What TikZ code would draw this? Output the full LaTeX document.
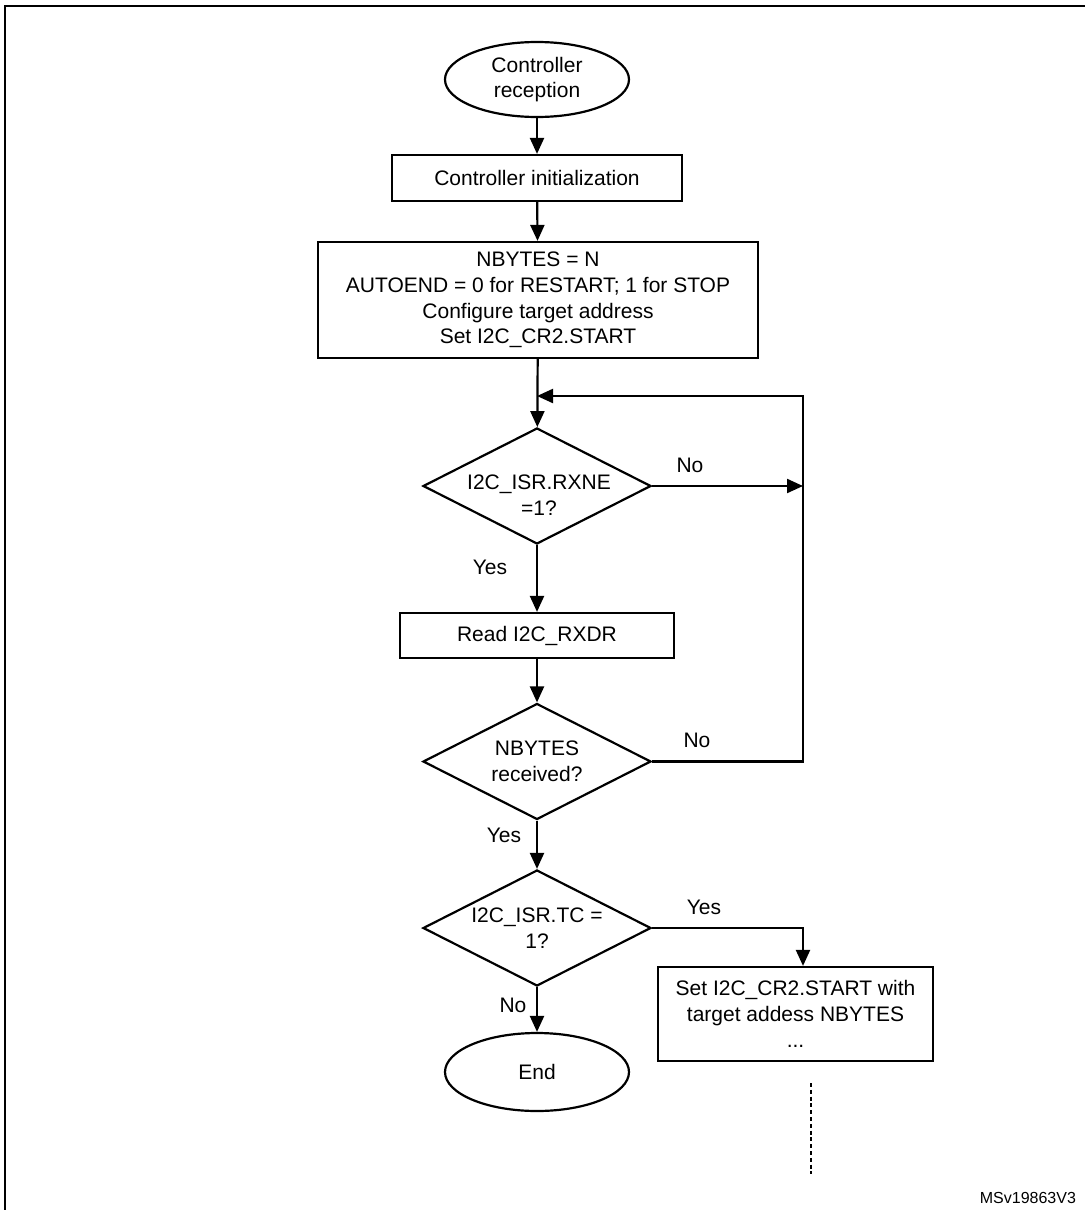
\documentclass[tikz,border=0pt]{standalone}
\usepackage{fontspec}
\setmainfont{Liberation Sans}
\usetikzlibrary{shapes.geometric,arrows.meta}
\begin{document}
\begin{tikzpicture}[x=0.5pt, y=-0.5pt,
    every node/.style={font=\fontsize{10.5}{12.85}\selectfont, align=center},
    box/.style={draw, line width=1.1pt, inner sep=0pt},
    term/.style={draw, line width=1.1pt, ellipse, inner sep=0pt},
    test/.style={draw, line width=1.1pt, diamond, aspect=2, inner sep=-1.5pt,
      minimum width=114pt, minimum height=58pt},
    arr/.style={line width=1.1pt, -{Triangle[length=8pt,width=7pt]}}]
  \useasboundingbox (0,0) rectangle (1085,1210);
  \draw[line width=1pt] (5,1210) -- (5,6) -- (1085,6);
  % main column
  \node[term, minimum width=92pt, minimum height=37.5pt] (start) at (537,79.5) {Controller\\reception};
  \node[box, minimum width=145pt, minimum height=23pt] (init) at (537,178) {Controller initialization};
  \node[box, minimum width=220pt, minimum height=58pt] (cfg) at (538,300)
    {NBYTES = N\\AUTOEND = 0 for RESTART; 1 for STOP\\Configure target address\\Set I2C\_CR2.START};
  \node[test] (rxne) at (537,486) {};
  \node (rxnetext) at (539,495) {I2C\_ISR.RXNE\\=1?};
  \node[box, minimum width=137pt, minimum height=22.5pt] (read) at (537,635.5) {Read I2C\_RXDR};
  \node[test] (nbytes) at (537,761.5) {NBYTES\\received?};
  \node[test] (tc) at (537,928) {I2C\_ISR.TC =\\1?};
  \node[term, minimum width=92pt, minimum height=39pt] (end) at (537,1072) {End};
  \node[box, minimum width=137.5pt, minimum height=47pt] (setcr) at (795.5,1014)
    {Set I2C\_CR2.START with\\target addess NBYTES\\...};
  % loop corners
  \coordinate (join) at (537,396);
  \coordinate (looptop) at (803,396);
  \coordinate (tcturn) at (803,928);
  \coordinate (dotA) at (811,1083);
  \coordinate (dotB) at (811,1174);
  % connectors
  \draw[arr] (start) -- (init);
  \draw[arr] (init) -- (cfg);
  \draw[arr] (cfg) -- (rxne);
  \draw[arr] (rxne.east) -- (rxne.east -| looptop);
  \draw[arr] (rxne) -- (read);
  \draw[arr] (read) -- (nbytes);
  \draw[arr] (nbytes.east) -- (nbytes.east -| looptop) -- (looptop) -- (join);
  \draw[arr] (nbytes) -- (tc);
  \draw[arr] (tc) -- (end);
  \draw[arr] (tc.east) -- (tcturn) -- (tcturn |- setcr.north);
  \draw[line width=0.9pt, dash pattern=on 2pt off 1.4pt] (dotA) -- (dotB);
  % labels
  \node (no1) at (690,465) {No};
  \node (yes1) at (490,567) {Yes};
  \node (no2) at (697,740) {No};
  \node (yes2) at (504,835) {Yes};
  \node (yes3) at (704,907) {Yes};
  \node (no3) at (513,1005) {No};
  \node[anchor=base east, font=\fontsize{8}{9}\selectfont] (ref) at (1083,1203) {MSv19863V3};
\end{tikzpicture}
\end{document}
